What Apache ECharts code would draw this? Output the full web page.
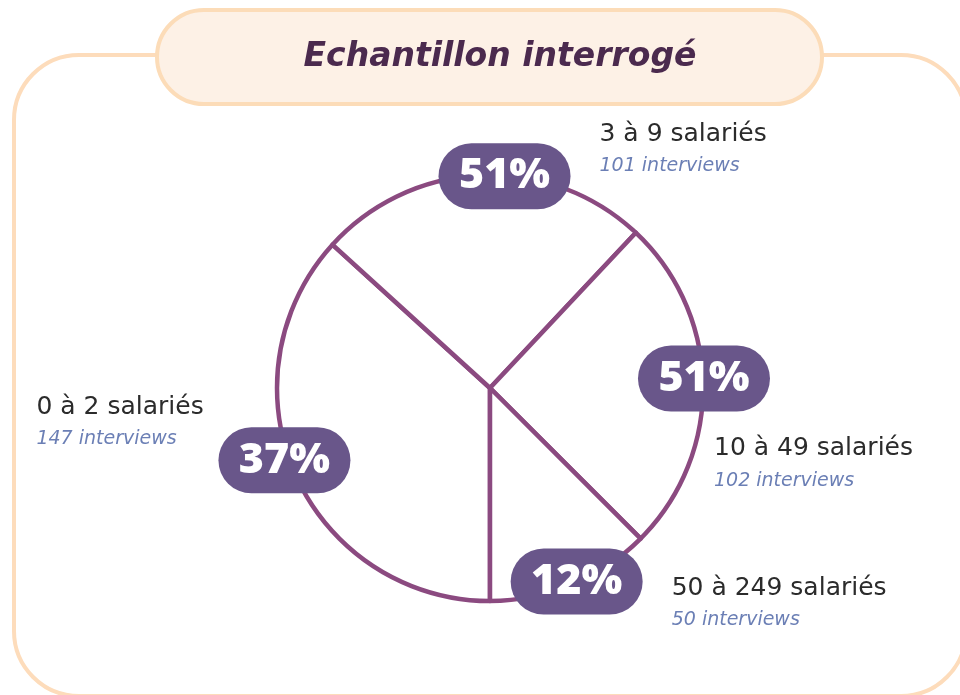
<!DOCTYPE html>
<html>
<head>
<meta charset="utf-8">
<script src="https://cdn.jsdelivr.net/npm/echarts@6/dist/echarts.min.js"></script>
<style>
html,body{margin:0;padding:0;background:#fff;}
#chart_1{width:960px;height:695px;}
</style>
</head>
<body>
<div id="chart_1"></div>
<script>
// données
var categories = ['0 à 2 salariés', '3 à 9 salariés', '10 à 49 salariés', '50 à 249 salariés'];
var interviews = [147, 101, 102, 50];
var pcts = [37, 51, 51, 12];
var titre = 'Echantillon interrogé';

// décalages des étiquettes (px)
var badgeShift = [[-8, -15], [23, 4], [-2, -6], [4, -6]];
var nameShift = [[-256, -52], [118, -22], [8, 80], [99, 17]];

var font = '"DejaVu Sans", "Noto Sans", sans-serif';
var fontPct = '"Open Sans", "Noto Sans", sans-serif';
var purple = '#8b4a80';

function pieData(){
    var arr = [];
    for (var i = 0; i < categories.length; i++) {
        arr.push({name: categories[i], value: interviews[i], pct: pcts[i]});
    }
    return arr;
}

var option1 = {
    animation: false,
    graphic: [
        {
            type: 'rect', z: 0,
            shape: {x: 14, y: 55, width: 952, height: 641, r: 65},
            style: {fill: 'none', stroke: '#fddcbb', lineWidth: 4}
        },
        {
            type: 'rect', z: 1,
            shape: {x: 157, y: 10, width: 665, height: 94, r: 47},
            style: {fill: '#fdf1e6', stroke: '#fcdcb8', lineWidth: 4}
        },
        {
            type: 'text', z: 2, x: 500, y: 57,
            style: {
                text: titre, fill: '#4b2a4e',
                font: 'italic bold 33px ' + font,
                textAlign: 'center', textVerticalAlign: 'middle'
            }
        }
    ],
    series: [
        {
            type: 'pie',
            center: [490, 388],
            radius: [0, 213],
            startAngle: 270,
            clockwise: true,
            silent: true,
            label: {show: false},
            labelLine: {show: false},
            itemStyle: {color: '#fff', borderColor: purple, borderWidth: 4.5},
            data: pieData()
        },
        {
            // pastilles de pourcentage
            type: 'pie',
            center: [490, 388],
            radius: [200, 226],
            startAngle: 270,
            silent: true,
            itemStyle: {color: 'transparent'},
            labelLine: {show: false},
            label: {
                show: true,
                position: 'inside',
                formatter: function(p){ return '{b|' + p.data.pct + '%}'; },
                rich: {
                    b: {
                        color: '#fff', fontFamily: fontPct, fontWeight: 800, fontSize: 43,
                        backgroundColor: '#69568a', borderRadius: 33,
                        width: 132, height: 66, lineHeight: 66, align: 'center'
                    }
                }
            },
            labelLayout: function(p){
                return {dx: badgeShift[p.dataIndex][0], dy: badgeShift[p.dataIndex][1]};
            },
            data: pieData()
        },
        {
            // libellés
            type: 'pie',
            center: [490, 388],
            radius: [200, 226],
            startAngle: 270,
            silent: true,
            itemStyle: {color: 'transparent'},
            labelLine: {show: false},
            label: {
                show: true,
                position: 'inside',
                formatter: function(p){
                    return '{n|' + p.name + '}\n{s|' + p.value + ' interviews}';
                },
                rich: {
                    n: {color: '#2b2b2b', fontFamily: font, fontSize: 25, lineHeight: 32, align: 'left'},
                    s: {color: '#6b7fb5', fontFamily: font, fontStyle: 'italic', fontSize: 19, lineHeight: 32, align: 'left'}
                }
            },
            labelLayout: function(p){
                return {
                    dx: nameShift[p.dataIndex][0], dy: nameShift[p.dataIndex][1],
                    align: 'left', verticalAlign: 'middle'
                };
            },
            data: pieData()
        }
    ]
};
var myChart1 = echarts.init(document.getElementById('chart_1'));
myChart1.setOption(option1);
</script>
</body>
</html>
